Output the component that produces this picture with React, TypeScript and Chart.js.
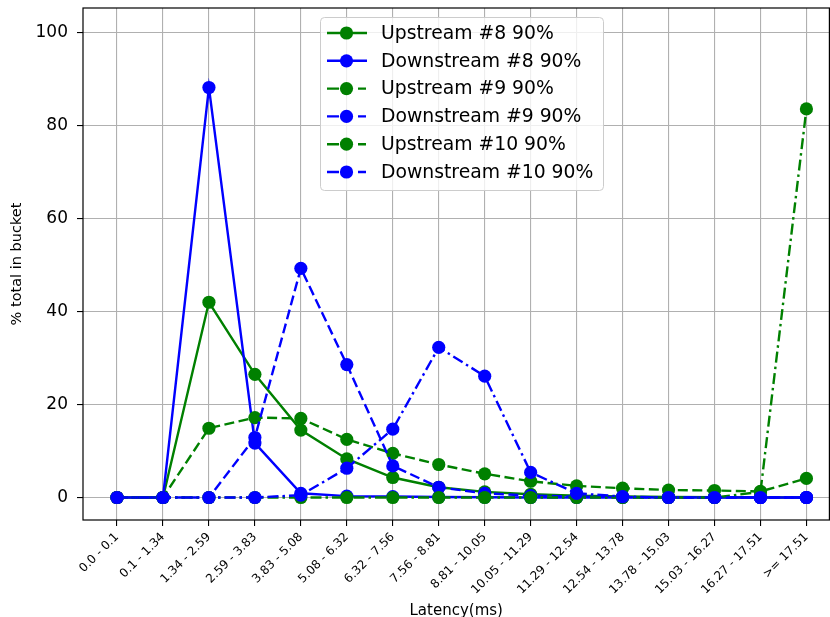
import React, { useEffect, useRef } from 'react';
import { Chart, registerables } from 'chart.js';
Chart.register(...registerables);

const FONT = '"DejaVu Sans", sans-serif';

const categories = [
  '0.0 - 0.1', '0.1 - 1.34', '1.34 - 2.59', '2.59 - 3.83', '3.83 - 5.08', '5.08 - 6.32',
  '6.32 - 7.56', '7.56 - 8.81', '8.81 - 10.05', '10.05 - 11.29', '11.29 - 12.54',
  '12.54 - 13.78', '13.78 - 15.03', '15.03 - 16.27', '16.27 - 17.51', '>= 17.51',
];

const upstream8 = [0, 0, 42.0, 26.5, 14.5, 8.3, 4.3, 2.2, 1.2, 0.7, 0.4, 0.2, 0.1, 0.05, 0, 0];
const downstream8 = [0, 0, 88.2, 11.7, 0.9, 0.3, 0.2, 0.1, 0.05, 0, 0, 0, 0, 0, 0, 0];
const upstream9 = [0, 0, 14.9, 17.2, 17.0, 12.5, 9.5, 7.1, 5.1, 3.5, 2.5, 2.0, 1.6, 1.5, 1.3, 4.1];
const downstream9 = [0, 0, 0, 12.9, 49.3, 28.6, 6.8, 2.2, 0.9, 0.4, 0.2, 0.1, 0, 0, 0, 0];
const upstream10 = [0, 0, 0, 0, 0, 0, 0, 0, 0, 0, 0, 0, 0, 0, 1.2, 83.6];
const downstream10 = [0, 0, 0, 0, 0.5, 6.3, 14.7, 32.3, 26.1, 5.4, 0.9, 0.2, 0, 0, 0, 0];

const yTicks = [0, 20, 40, 60, 80, 100];

const GREEN = '#008000';
const BLUE = '#0000ff';
const DASHED = [10, 4.5];
const DASHDOT = [11, 4, 2.5, 4];

const series = [
  { label: 'Upstream #8 90%', data: upstream8, color: GREEN, dash: [] as number[] },
  { label: 'Downstream #8 90%', data: downstream8, color: BLUE, dash: [] as number[] },
  { label: 'Upstream #9 90%', data: upstream9, color: GREEN, dash: DASHED },
  { label: 'Downstream #9 90%', data: downstream9, color: BLUE, dash: DASHED },
  { label: 'Upstream #10 90%', data: upstream10, color: GREEN, dash: DASHDOT },
  { label: 'Downstream #10 90%', data: downstream10, color: BLUE, dash: DASHDOT },
];

const framePlugin = {
  id: 'mplFrame',
  afterDatasetsDraw(chart: any) {
    const { ctx, chartArea: a } = chart;
    ctx.save();
    ctx.strokeStyle = '#000';
    ctx.lineWidth = 1.2;
    ctx.strokeRect(a.left, a.top, a.right - a.left, a.bottom - a.top);
    ctx.restore();
  },
};

const legendPlugin = {
  id: 'mplLegend',
  afterDraw(chart: any) {
    const c = chart.ctx;
    c.save();
    const x0 = 320.5, y0 = 17.5, w = 283, h = 173, r = 4;
    c.beginPath();
    c.moveTo(x0 + r, y0);
    c.lineTo(x0 + w - r, y0);
    c.arcTo(x0 + w, y0, x0 + w, y0 + r, r);
    c.lineTo(x0 + w, y0 + h - r);
    c.arcTo(x0 + w, y0 + h, x0 + w - r, y0 + h, r);
    c.lineTo(x0 + r, y0 + h);
    c.arcTo(x0, y0 + h, x0, y0 + h - r, r);
    c.lineTo(x0, y0 + r);
    c.arcTo(x0, y0, x0 + r, y0, r);
    c.closePath();
    c.fillStyle = 'rgba(255,255,255,0.8)';
    c.fill();
    c.strokeStyle = '#cccccc';
    c.lineWidth = 1;
    c.stroke();
    series.forEach((s, i) => {
      const y = 33 + i * 27.8;
      c.strokeStyle = s.color;
      c.lineWidth = 2.4;
      c.beginPath();
      if (s.dash.length === 0) {
        c.moveTo(327, y);
        c.lineTo(367, y);
      } else {
        c.moveTo(327, y);
        c.lineTo(339, y);
        c.moveTo(358, y);
        c.lineTo(366, y);
      }
      c.stroke();
      c.fillStyle = s.color;
      c.beginPath();
      c.arc(346.5, y, 6.6, 0, Math.PI * 2);
      c.fill();
      c.fillStyle = '#000';
      c.font = `18.8px ${FONT}`;
      c.textBaseline = 'middle';
      c.textAlign = 'left';
      c.fillText(s.label, 381, y + 1);
    });
    c.restore();
  },
};

export default function App() {
  const ref = useRef<HTMLCanvasElement>(null);
  useEffect(() => {
    document.body.style.margin = '0';
    const canvas = ref.current!;
    const n = series.length;
    const chart = new Chart(canvas, {
      type: 'line',
      data: {
        datasets: series.map((s, i) => ({
          label: s.label,
          data: s.data.map((v, j) => ({ x: j, y: v })),
          borderColor: s.color,
          backgroundColor: s.color,
          borderWidth: 2.4,
          borderDash: s.dash,
          pointRadius: 6.6,
          pointHoverRadius: 6.6,
          pointBorderWidth: 0,
          pointBackgroundColor: s.color,
          fill: false,
          tension: 0,
          order: n - i,
        })),
      },
      options: {
        responsive: false,
        animation: false,
        layout: { padding: { top: 8, right: 0, left: 0, bottom: 0 } },
        plugins: { legend: { display: false }, tooltip: { enabled: false } },
        scales: {
          x: {
            type: 'linear',
            min: -0.74,
            max: 15.5,
            afterBuildTicks: (s: any) => {
              s.ticks = categories.map((_, i) => ({ value: i }));
            },
            afterFit: (s: any) => {
              s.height = 97;
              s.paddingLeft = 0;
              s.paddingRight = 0;
            },
            ticks: {
              callback: (v: any) => categories[v as number],
              autoSkip: false,
              minRotation: 45,
              maxRotation: 45,
              color: '#000',
              padding: 4,
              font: { family: FONT, size: 12 },
            },
            grid: { color: '#b0b0b0', lineWidth: 1.1, tickColor: '#000', tickLength: 6, tickWidth: 1.1 },
            border: { display: false },
            title: {
              display: true,
              text: 'Latency(ms)',
              color: '#000',
              padding: { top: 0, bottom: -2 },
              font: { family: FONT, size: 15, lineHeight: 1 },
            },
          },
          y: {
            min: -4.84,
            max: 105.3,
            afterBuildTicks: (s: any) => {
              s.ticks = yTicks.map((v) => ({ value: v }));
            },
            afterFit: (s: any) => {
              s.width = 83;
              s.paddingTop = 0;
              s.paddingBottom = 0;
            },
            ticks: { color: '#000', padding: 9, font: { family: FONT, size: 17 } },
            grid: { color: '#b0b0b0', lineWidth: 1.1, tickColor: '#000', tickLength: 6, tickWidth: 1.1 },
            border: { display: false },
            title: {
              display: true,
              text: '% total in bucket',
              color: '#000',
              padding: { top: 10, bottom: 0 },
              font: { family: FONT, size: 14.5, lineHeight: 1 },
            },
          },
        },
      },
      plugins: [framePlugin, legendPlugin],
    } as any);
    return () => chart.destroy();
  }, []);
  return (
    <div style={{ width: 830, height: 617, overflow: 'hidden' }}>
      <canvas ref={ref} width={836} height={617} style={{ display: 'block' }} />
    </div>
  );
}
